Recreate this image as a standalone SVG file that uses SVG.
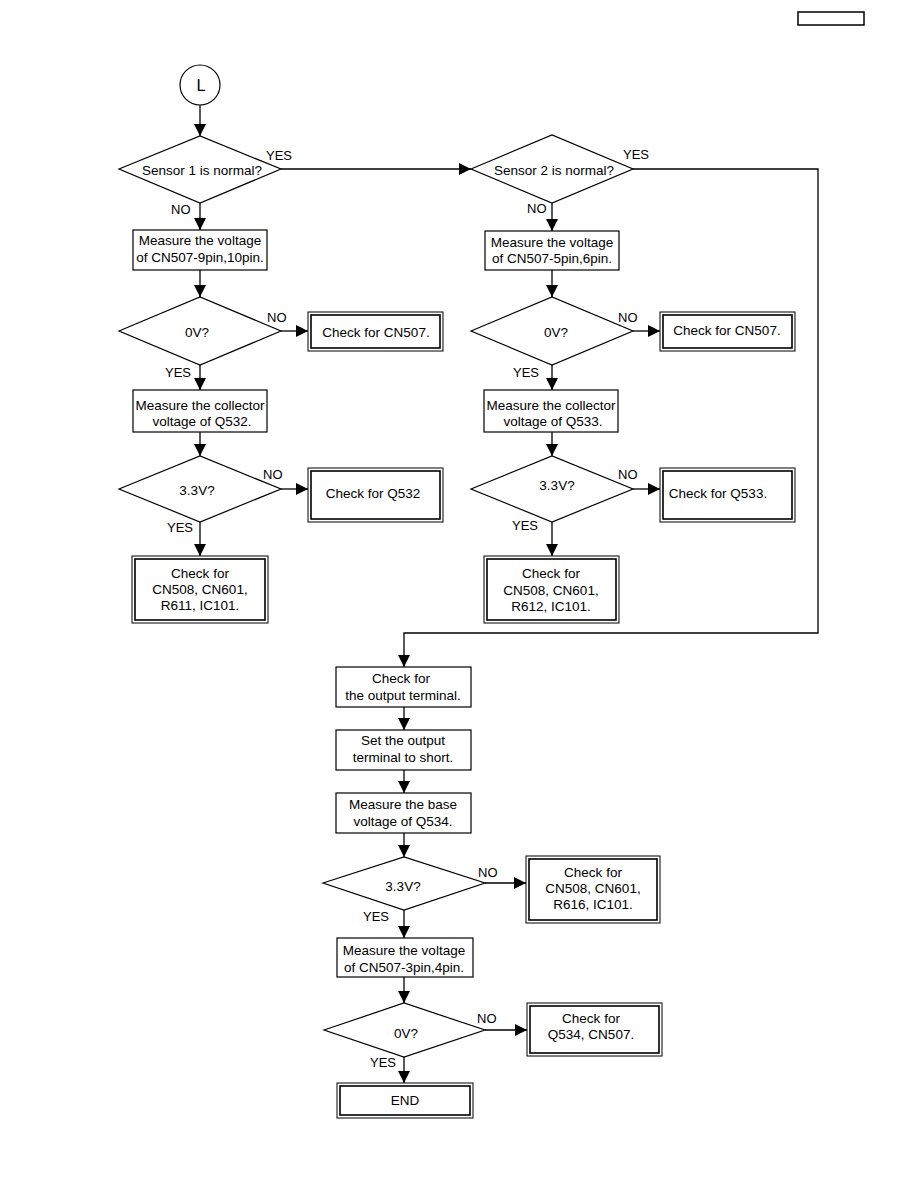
<svg xmlns="http://www.w3.org/2000/svg" width="918" height="1188" viewBox="0 0 918 1188">
<style>
.b{fill:#fff;stroke:#000;stroke-width:1.2}
.o{fill:#fff;stroke:#000;stroke-width:1}
.i{fill:none;stroke:#000;stroke-width:1.6}
.c{fill:none;stroke:#000;stroke-width:1.3}
text{font-family:"Liberation Sans",Arial,sans-serif;fill:#000}
.t{font-size:13.5px;text-anchor:middle}
.l{font-size:13px}
</style>
<defs>
<marker id="ah" markerUnits="userSpaceOnUse" markerWidth="12" markerHeight="12" refX="12" refY="6" orient="auto">
<path d="M0,0 L12,6 L0,12 Z" fill="#000"/>
</marker>
</defs>
<rect x="798" y="12" width="66" height="13" fill="none" stroke="#000" stroke-width="1.5"/>

<g id="connectors" class="c" marker-end="url(#ah)">
<line x1="200" y1="105" x2="200" y2="136"/>
<line x1="281" y1="169" x2="471" y2="169"/>
<line x1="200" y1="203" x2="200" y2="230"/>
<line x1="200" y1="270" x2="200" y2="297"/>
<line x1="281" y1="331" x2="308" y2="331"/>
<line x1="200" y1="365" x2="200" y2="390"/>
<line x1="200" y1="432" x2="200" y2="456"/>
<line x1="281" y1="489" x2="308" y2="489"/>
<line x1="200" y1="522" x2="200" y2="556"/>
<line x1="552" y1="203" x2="552" y2="231"/>
<line x1="552" y1="270" x2="552" y2="297"/>
<line x1="633" y1="331" x2="660" y2="331"/>
<line x1="552" y1="365" x2="552" y2="390"/>
<line x1="552" y1="432" x2="552" y2="456"/>
<line x1="633" y1="489" x2="660" y2="489"/>
<line x1="552" y1="522" x2="552" y2="556"/>
<polyline points="633,169 818,169 818,633 404,633 404,667"/>
<line x1="404" y1="707" x2="404" y2="730"/>
<line x1="404" y1="770" x2="404" y2="793"/>
<line x1="404" y1="833" x2="404" y2="857"/>
<line x1="485" y1="883" x2="526" y2="883"/>
<line x1="404" y1="910" x2="404" y2="938"/>
<line x1="404" y1="977" x2="404" y2="1003"/>
<line x1="485" y1="1030" x2="527" y2="1030"/>
<line x1="404" y1="1057" x2="404" y2="1083"/>
</g>

<g id="labels" class="l">
<text x="266" y="160">YES</text>
<text x="171" y="214">NO</text>
<text x="623" y="159">YES</text>
<text x="527" y="213">NO</text>
<text x="267" y="322">NO</text>
<text x="165" y="377">YES</text>
<text x="263" y="479">NO</text>
<text x="167" y="532">YES</text>
<text x="618" y="322">NO</text>
<text x="513" y="377">YES</text>
<text x="618" y="479">NO</text>
<text x="512" y="530">YES</text>
<text x="478" y="877">NO</text>
<text x="363" y="921">YES</text>
<text x="477" y="1023">NO</text>
<text x="370" y="1067">YES</text>
</g>

<g id="start">
<circle cx="200" cy="85" r="20" class="b"/>
<text x="201" y="91" font-size="16.5" text-anchor="middle">L</text>
</g>

<g id="d_sensor1">
<polygon class="b" points="119,169 200,136 281,169 200,203"/>
<text class="t" x="202" y="175">Sensor 1 is normal?</text>
</g>
<g id="b_measure1">
<rect class="b" x="133" y="230" width="134" height="40"/>
<text class="t" x="200" y="245">Measure the voltage</text>
<text class="t" x="200" y="262">of CN507-9pin,10pin.</text>
</g>
<g id="d_0v1">
<polygon class="b" points="119,331 200,297 281,331 200,365"/>
<text class="t" x="197" y="337">0V?</text>
</g>
<g id="e_cn507a">
<rect class="o" x="308" y="312" width="135" height="39"/>
<rect class="i" x="311" y="315" width="129" height="33"/>
<text class="t" x="376" y="337">Check for CN507.</text>
</g>
<g id="b_coll1">
<rect class="b" x="133" y="390" width="134" height="42"/>
<text class="t" x="200" y="410">Measure the collector</text>
<text class="t" x="202" y="426">voltage of Q532.</text>
</g>
<g id="d_33a">
<polygon class="b" points="119,489 200,456 281,489 200,522"/>
<text class="t" x="197" y="495">3.3V?</text>
</g>
<g id="e_q532">
<rect class="o" x="308" y="468" width="135" height="54"/>
<rect class="i" x="311" y="471" width="129" height="48"/>
<text class="t" x="373" y="498">Check for Q532</text>
</g>
<g id="e_left">
<rect class="o" x="132" y="556" width="136" height="67"/>
<rect class="i" x="135" y="559" width="130" height="61"/>
<text class="t" x="200" y="578">Check for</text>
<text class="t" x="200" y="594">CN508, CN601,</text>
<text class="t" x="200" y="610">R611, IC101.</text>
</g>

<g id="d_sensor2">
<polygon class="b" points="471,169 552,135 633,169 552,203"/>
<text class="t" x="554" y="175">Sensor 2 is normal?</text>
</g>
<g id="b_measure2">
<rect class="b" x="485" y="231" width="134" height="39"/>
<text class="t" x="552" y="247">Measure the voltage</text>
<text class="t" x="552" y="263">of CN507-5pin,6pin.</text>
</g>
<g id="d_0v2">
<polygon class="b" points="471,331 552,297 633,331 552,365"/>
<text class="t" x="556" y="337">0V?</text>
</g>
<g id="e_cn507b">
<rect class="o" x="660" y="312" width="135" height="39"/>
<rect class="i" x="663" y="315" width="129" height="33"/>
<text class="t" x="727" y="335">Check for CN507.</text>
</g>
<g id="b_coll2">
<rect class="b" x="484" y="390" width="134" height="42"/>
<text class="t" x="551" y="410">Measure the collector</text>
<text class="t" x="553" y="426">voltage of Q533.</text>
</g>
<g id="d_33b">
<polygon class="b" points="471,489 552,456 633,489 552,522"/>
<text class="t" x="557" y="490">3.3V?</text>
</g>
<g id="e_q533">
<rect class="o" x="660" y="468" width="135" height="54"/>
<rect class="i" x="663" y="471" width="129" height="48"/>
<text class="t" x="718" y="498">Check for Q533.</text>
</g>
<g id="e_right">
<rect class="o" x="484" y="556" width="135" height="67"/>
<rect class="i" x="487" y="559" width="129" height="61"/>
<text class="t" x="551" y="578">Check for</text>
<text class="t" x="551" y="595">CN508, CN601,</text>
<text class="t" x="551" y="611">R612, IC101.</text>
</g>

<g id="b_output">
<rect class="b" x="336" y="667" width="135" height="40"/>
<text class="t" x="401" y="683">Check for</text>
<text class="t" x="403" y="700">the output terminal.</text>
</g>
<g id="b_short">
<rect class="b" x="336" y="730" width="135" height="40"/>
<text class="t" x="403" y="745">Set the output</text>
<text class="t" x="403" y="762">terminal to short.</text>
</g>
<g id="b_base">
<rect class="b" x="336" y="793" width="135" height="40"/>
<text class="t" x="403" y="809">Measure the base</text>
<text class="t" x="403" y="826">voltage of Q534.</text>
</g>
<g id="d_33c">
<polygon class="b" points="323,883 404,857 485,883 404,910"/>
<text class="t" x="403" y="891">3.3V?</text>
</g>
<g id="e_r616">
<rect class="o" x="526" y="856" width="134" height="67"/>
<rect class="i" x="529" y="859" width="128" height="61"/>
<text class="t" x="593" y="877">Check for</text>
<text class="t" x="593" y="893">CN508, CN601,</text>
<text class="t" x="593" y="909">R616, IC101.</text>
</g>
<g id="b_measure3">
<rect class="b" x="337" y="938" width="136" height="39"/>
<text class="t" x="404" y="955">Measure the voltage</text>
<text class="t" x="404" y="972">of CN507-3pin,4pin.</text>
</g>
<g id="d_0v3">
<polygon class="b" points="324,1030 404,1003 485,1030 404,1057"/>
<text class="t" x="406" y="1038">0V?</text>
</g>
<g id="e_q534">
<rect class="o" x="527" y="1003" width="135" height="53"/>
<rect class="i" x="530" y="1006" width="129" height="47"/>
<text class="t" x="591" y="1023">Check for</text>
<text class="t" x="591" y="1039">Q534, CN507.</text>
</g>
<g id="e_end">
<rect class="o" x="337" y="1083" width="136" height="35"/>
<rect class="i" x="340" y="1086" width="130" height="29"/>
<text class="t" x="405" y="1105">END</text>
</g>
</svg>
